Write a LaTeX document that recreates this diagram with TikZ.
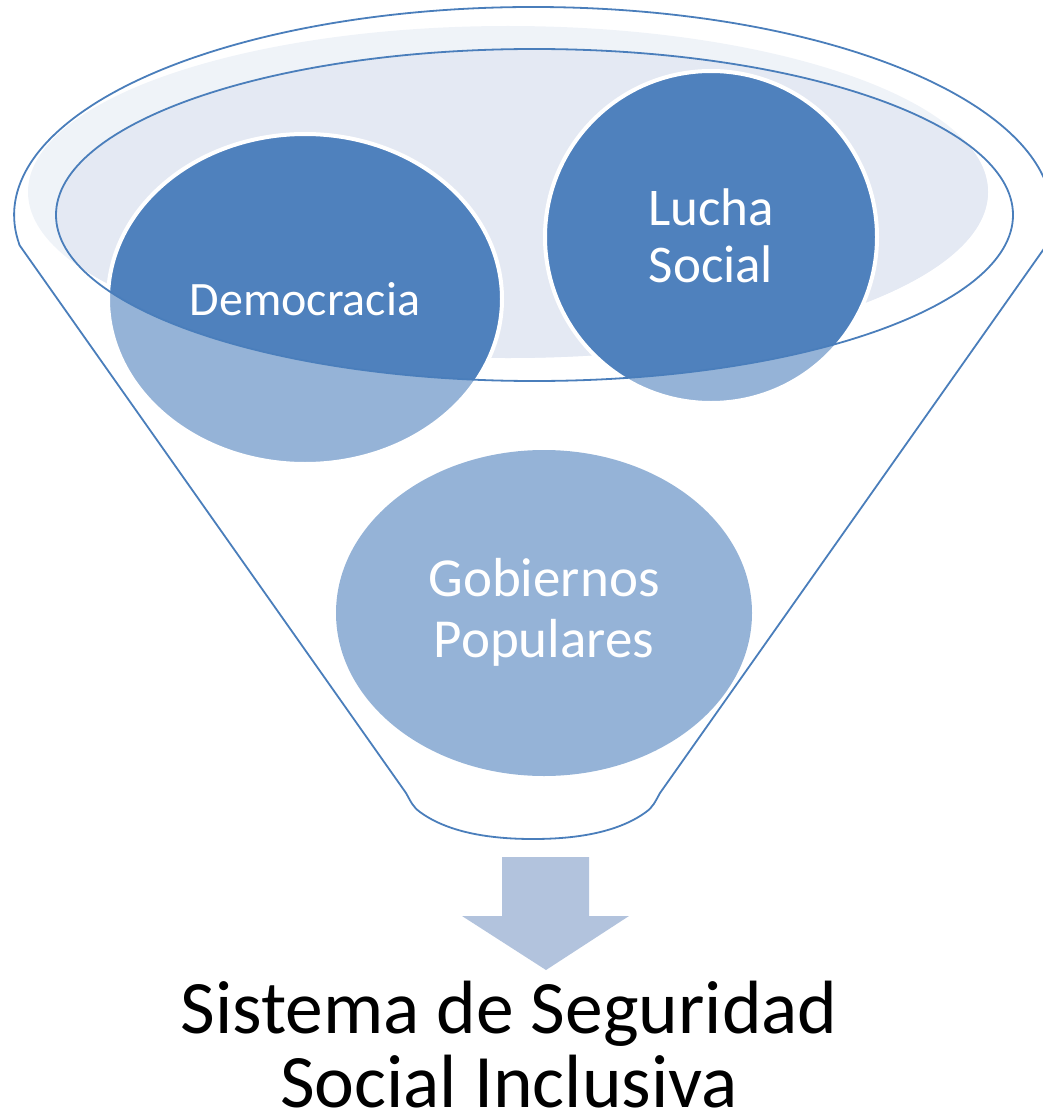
\documentclass[tikz,border=0pt]{standalone}
\usepackage{fontspec}
\setmainfont{Carlito}
\definecolor{dkblue}{HTML}{4F81BD}
\definecolor{ltblue}{HTML}{95B3D7}
\definecolor{rimline}{HTML}{4A7EBB}
\definecolor{haze}{HTML}{EFF3F8}
\definecolor{hazein}{HTML}{E4E9F3}
\definecolor{arrowc}{HTML}{B2C3DD}
\begin{document}
\begin{tikzpicture}[x=1pt,y=-1pt,
  outline/.style={draw=rimline,line width=1.8pt},
  ringwhite/.style={draw=white,line width=4pt},
  intext/.style={text=white,align=center,inner sep=0pt},
  outtext/.style={text=black,align=center,inner sep=0pt}]
\useasboundingbox (0,0) rectangle (1043,1113);
% funnel body
\draw[outline,line join=round] (19.4,245) -- (406,793) .. controls (411,802) and (413,807) .. (420,812)
  .. controls (450,834) and (495,839) .. (533,839)
  .. controls (571,839) and (616,834) .. (646,812)
  .. controls (653,807) and (655,802) .. (660,793) -- (1046.6,245)
  arc[start angle=8.3,end angle=-188.3,x radius=519,y radius=208];
% haze ellipse
\fill[haze] (508,192) ellipse[x radius=480,y radius=166];
\begin{scope}
  \clip (534.5,215) ellipse[x radius=478.5,y radius=166];
  \fill[hazein] (508,192) ellipse[x radius=480,y radius=166];
\end{scope}
% circles light
\fill[ltblue] (305,299) ellipse[x radius=197,y radius=165];
\fill[ltblue] (711,237) ellipse[x radius=166,y radius=166];
\fill[ltblue] (544,613) ellipse[x radius=208,y radius=163];
\begin{scope}
  \clip (534.5,215) ellipse[x radius=478.5,y radius=166];
  \fill[dkblue] (305,299) ellipse[x radius=197,y radius=165];
  \fill[dkblue] (711,237) ellipse[x radius=166,y radius=166];
\end{scope}
\draw[ringwhite] (305,299) ellipse[x radius=197,y radius=165];
\draw[ringwhite] (711,237) ellipse[x radius=166,y radius=166];
% rim
\draw[outline] (534.5,215) ellipse[x radius=478.5,y radius=166];
% texts
\node[intext,font=\fontsize{48}{52}\selectfont] (dem) at (305,299) {Democracia};
\node[intext,font=\fontsize{53}{57}\selectfont] (luc) at (711,236) {Lucha\\Social};
\node[intext,font=\fontsize{55}{61}\selectfont] (gob) at (544,612) {Gobiernos\\Populares};
% arrow
\fill[arrowc] (502,857) -- (589,857) -- (589,916) -- (629,916) -- (546,970) -- (462,916) -- (502,916) -- cycle;
\node[outtext,font=\fontsize{75.5}{74}\selectfont] (res) at (509,1045) {Sistema de Seguridad\\Social Inclusiva};
\end{tikzpicture}
\end{document}
